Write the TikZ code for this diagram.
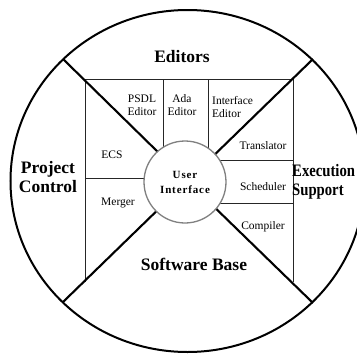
\documentclass[tikz,border=0pt]{standalone}
\usepackage{fontspec}
\setmainfont{Liberation Serif}
\begin{document}
\begin{tikzpicture}[x=1pt,y=-1pt,
  thick line/.style={line width=2.1pt,black},
  thin line/.style={line width=0.9pt,black!85},
  big/.style={font=\fontsize{17.5}{19}\selectfont\bfseries,align=center,inner sep=0pt},
  small/.style={font=\fontsize{11.5}{13.5}\selectfont,align=center,inner sep=0pt},
  smallleft/.style={font=\fontsize{11.5}{13.5}\selectfont,align=left,inner sep=0pt,anchor=west}]
\useasboundingbox (0,0) rectangle (357,354);
\clip (0,0) rectangle (357,354);
\fill[white] (0,0) rectangle (357,354);
% centre and outer ring
\coordinate (c) at (187.5,181);
\coordinate (ul) at (63,59);
\coordinate (ur) at (313,59);
\coordinate (ll) at (63,302);
\coordinate (lr) at (313,303);
\draw[line width=2pt] (c) ellipse [x radius=177pt, y radius=171pt];
% inner frame
\coordinate (f1) at (85,282);
\coordinate (f2) at (85,79);
\coordinate (f3) at (293,79);
\coordinate (f4) at (293,282);
\draw[thin line] (f1) -- (f2) -- (f3) -- (f4);
\coordinate (d1) at (163,79);
\coordinate (d2) at (208,79);
\coordinate (h1) at (85,178);
\coordinate (h2) at (293,160);
\coordinate (h3) at (293,203);
\draw[thin line] (d1) -- (163,181);
\draw[thin line] (d2) -- (208,181);
\draw[thin line] (h1) -- (185,178);
\draw[thin line] (h2) -- (185,160);
\draw[thin line] (h3) -- (185,203);
% diagonals
\draw[thick line] (ul) -- (c);
\draw[thick line] (ur) -- (c);
\draw[thick line] (ll) -- (c);
\draw[thick line] (lr) -- (c);
% centre node
\node[circle,draw=black!50,line width=1.3pt,fill=white,minimum size=82pt,inner sep=0pt,
  font=\fontsize{11}{15}\selectfont\bfseries\addfontfeature{LetterSpace=8},align=center]
  (ui) at (185,182) {User\\Interface};
% sector labels
\node[big] (ed) at (182,57) {Editors};
\node[big] (pc) at (48,177) {Project\\Control};
\node[big,align=left,anchor=west,font=\fontsize{17.5}{19}\selectfont\bfseries\addfontfeature{FakeStretch=0.84}] (es) at (292,182) {Execution\\Support};
\node[big] (sb) at (194,264) {Software Base};
% small labels
\node[small] (psdl) at (142,105) {PSDL\\Editor};
\node[small] (ada) at (182,105) {Ada\\Editor};
\node[smallleft] (ie) at (212,107) {Interface\\Editor};
\node[small] (tr) at (263,146) {Translator};
\node[small] (sc) at (263,187) {Scheduler};
\node[small] (co) at (263,227) {Compiler};
\node[small] (ecs) at (112,155) {ECS};
\node[small] (me) at (118,203) {Merger};
\end{tikzpicture}
\end{document}
